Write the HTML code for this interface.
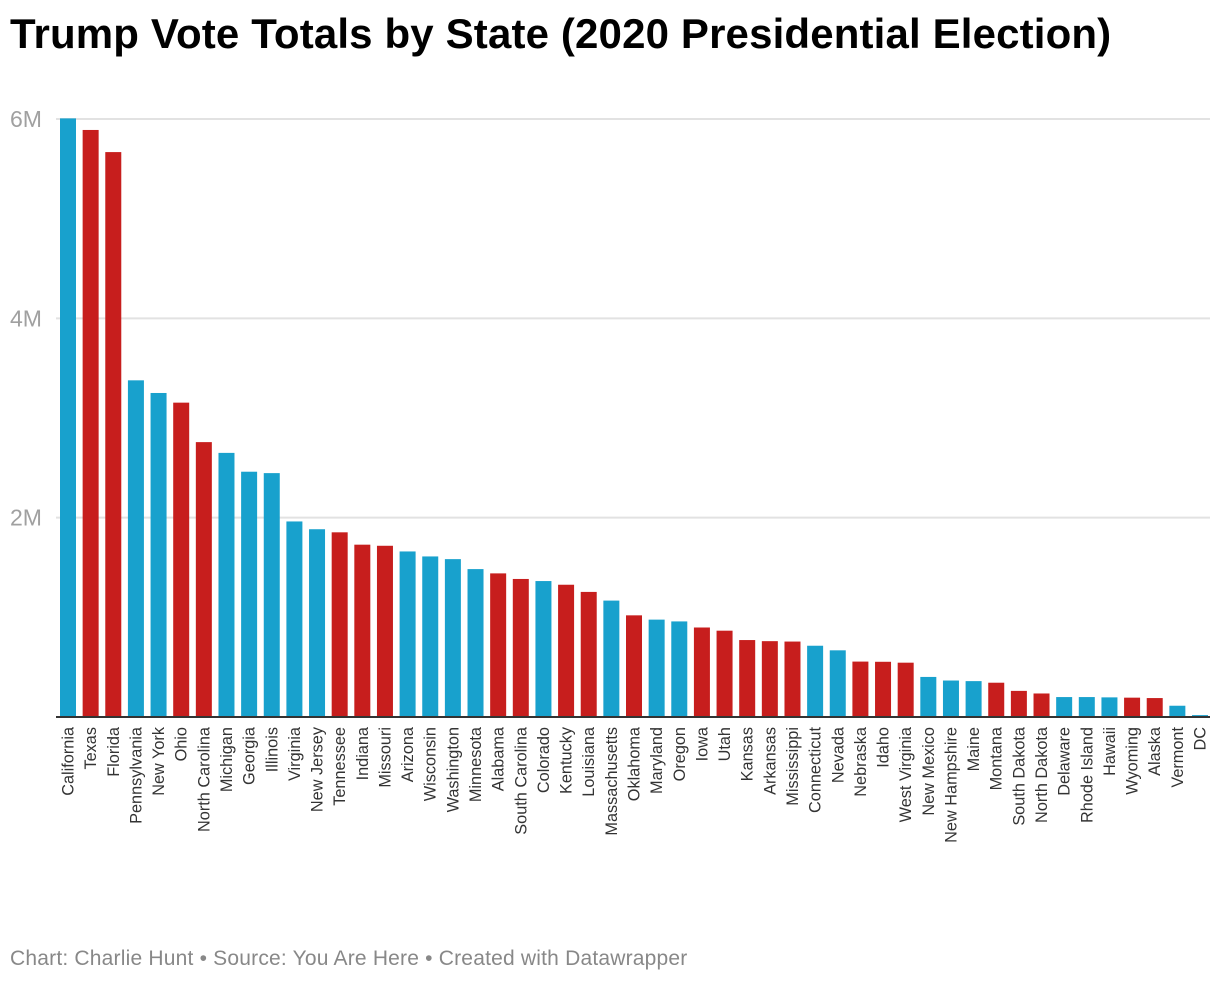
<!DOCTYPE html>
<html><head><meta charset="utf-8"><style>
body{margin:0;background:#fff;width:1220px;height:986px;overflow:hidden;font-family:"Liberation Sans",sans-serif}
h1{position:absolute;left:10px;top:10px;margin:0;font-size:42px;font-weight:bold;color:#000;letter-spacing:0.15px}
.foot{position:absolute;left:10px;top:947px;font-size:21px;color:#888;letter-spacing:0.2px}
</style></head><body>
<h1>Trump Vote Totals by State (2020 Presidential Election)</h1>
<svg id="chart" width="1220" height="986" style="position:absolute;left:0;top:0"></svg>
<div class="foot">Chart: Charlie Hunt • Source: You Are Here • Created with Datawrapper</div>
<script>
const states=["California","Texas","Florida","Pennsylvania","New York","Ohio","North Carolina","Michigan","Georgia","Illinois","Virginia","New Jersey","Tennessee","Indiana","Missouri","Arizona","Wisconsin","Washington","Minnesota","Alabama","South Carolina","Colorado","Kentucky","Louisiana","Massachusetts","Oklahoma","Maryland","Oregon","Iowa","Utah","Kansas","Arkansas","Mississippi","Connecticut","Nevada","Nebraska","Idaho","West Virginia","New Mexico","New Hampshire","Maine","Montana","South Dakota","North Dakota","Delaware","Rhode Island","Hawaii","Wyoming","Alaska","Vermont","DC"];
const votes=[6.006,5.89,5.668,3.378,3.251,3.154,2.758,2.65,2.461,2.447,1.962,1.884,1.853,1.729,1.718,1.661,1.611,1.584,1.484,1.441,1.385,1.364,1.327,1.255,1.168,1.02,0.977,0.959,0.898,0.866,0.772,0.761,0.757,0.715,0.669,0.556,0.554,0.545,0.402,0.366,0.36,0.344,0.262,0.236,0.2,0.2,0.197,0.194,0.19,0.113,0.019];
const winner=["D","R","R","D","D","R","R","D","D","D","D","D","R","R","R","D","D","D","D","R","R","D","R","R","D","R","D","D","R","R","R","R","R","D","D","R","R","R","D","D","D","R","R","R","D","D","D","R","R","D","D"];
const yTicks=[2,4,6];
const yTickLabels=["2M","4M","6M"];
const svg=document.getElementById('chart');const NS='http://www.w3.org/2000/svg';
const y0=717,pxPerM=(717-119)/6;
const y=v=>y0-v*pxPerM;
const x=i=>60+i*22.64;
const bw=16;
function mk(t,a){const e=document.createElementNS(NS,t);for(const k in a)e.setAttribute(k,a[k]);svg.appendChild(e);return e;}
yTicks.forEach((t,i)=>{
 const l=mk('line',{x1:56,x2:1210,y1:y(t),y2:y(t),stroke:'#e2e2e2','stroke-width':2});
 
 
 const tx=mk('text',{x:10,y:y(t)+8,'font-size':23,fill:'#a0a0a0','font-family':'Liberation Sans, sans-serif'});
 tx.textContent=yTickLabels[i];
 
 
});
states.forEach((s,i)=>{
 const r=mk('rect',{x:x(i),y:y(votes[i]),width:bw,height:y0-y(votes[i]),fill:winner[i]==='D'?'#18a1cd':'#c71e1d'});
 
 
 const cx=x(i)+bw/2+5.5;
 const t=mk('text',{x:cx,y:727,'font-size':16.3,fill:'#333','text-anchor':'end','font-family':'Liberation Sans, sans-serif',transform:`rotate(-90 ${cx} 727)`});
 t.textContent=s;
 
 
});
const ax=mk('line',{x1:56,x2:1210,y1:y0,y2:y0,stroke:'#333','stroke-width':2});


</script>
</body></html>
